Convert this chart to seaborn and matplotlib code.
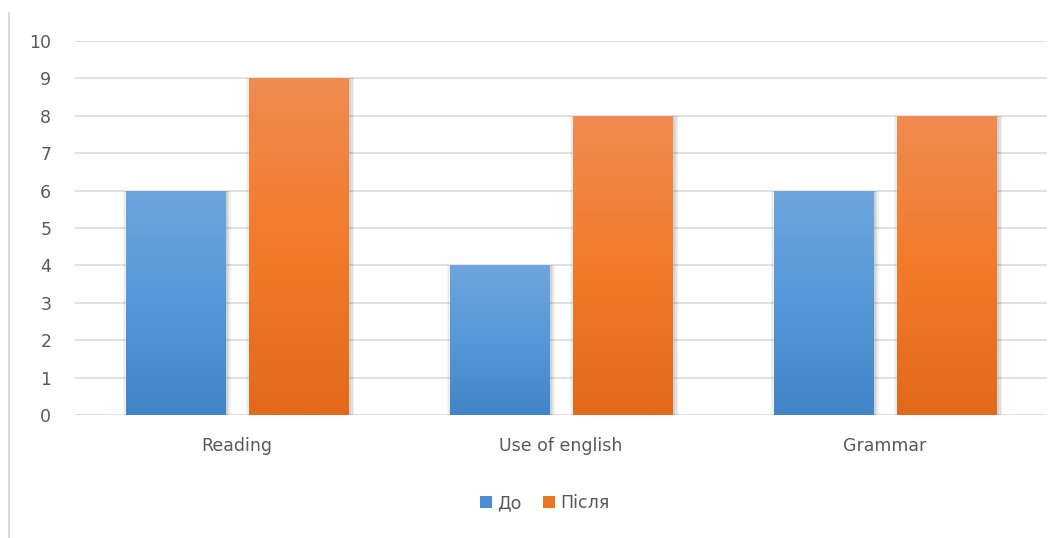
import numpy as np
import pandas as pd
import matplotlib
matplotlib.use("Agg")
import matplotlib.pyplot as plt
import matplotlib.patheffects as pe
from matplotlib.colors import LinearSegmentedColormap
from matplotlib.lines import Line2D
from matplotlib.patches import Patch
import seaborn as sns

categories = ["Reading", "Use of english", "Grammar"]
series = ["До", "Після"]
before = [6, 4, 6]
after = [9, 8, 8]

df = pd.DataFrame({
    "category": categories * 2,
    "series": [series[0]] * 3 + [series[1]] * 3,
    "value": before + after,
})

text_col = "#595959"
grid_col = "#dedede"
base_cols = {"До": "#5b9bd5", "Після": "#ed7d31"}
grads = {
    "До": ["#4185c6", "#5598d8", "#6ea5dc"],
    "Після": ["#e2681a", "#f27b2a", "#f08b50"],
}

sns.set_theme(style="white")
plt.rcParams["font.family"] = ["DejaVu Sans"]

fig = plt.figure(figsize=(10.62, 5.38), dpi=100)
ax = fig.add_axes([0.0706, 0.2286, 0.9152, 0.6952])

sns.barplot(data=df, x="category", y="value", hue="series", palette=base_cols,
            width=0.76, gap=0.19, ax=ax, legend=False, zorder=3)

# soft shadow (a few stacked faint shadows) + vertical gradient fill
shadow = [pe.SimplePatchShadow(offset=(d, 0), shadow_rgbFace="#000000", alpha=0.06) for d in (1, 2, 3, 4)]
shadow += [pe.SimplePatchShadow(offset=(-d, 0), shadow_rgbFace="#000000", alpha=0.04) for d in (1, 2)]
for bar in ax.patches:
    hue_name = "До" if bar.get_facecolor()[2] > 0.6 else "Після"
    bar.set_path_effects(shadow + [pe.Normal()])
    x0, y0 = bar.get_x(), bar.get_y()
    w, h = bar.get_width(), bar.get_height()
    cmap = LinearSegmentedColormap.from_list("g", grads[hue_name])
    grad = np.linspace(1, 0, 256).reshape(-1, 1)
    im = ax.imshow(grad, cmap=cmap, extent=[x0, x0 + w, y0, y0 + h], aspect="auto", zorder=4)
    im.set_clip_path(bar)

ax.set_xlim(-0.5, 2.5)
ax.set_ylim(0, 10)
ax.set_yticks(range(0, 11))
ax.yaxis.grid(True, color=grid_col, linewidth=1.3, zorder=0)
ax.set_axisbelow(True)
for s in ax.spines.values():
    s.set_visible(False)
ax.set_xlabel("")
ax.set_ylabel("")
ax.tick_params(axis="y", length=0, pad=17, labelsize=12.5, labelcolor=text_col)
ax.tick_params(axis="x", length=0, pad=16, labelsize=12.5, labelcolor=text_col)

handles = [Patch(facecolor="#4a8fd4", edgecolor="none", label="До"),
           Patch(facecolor="#ee7722", edgecolor="none", label="Після")]
fig.legend(handles=handles, loc="center", bbox_to_anchor=(0.513, 0.065), ncol=2, frameon=False,
           handlelength=0.7, handleheight=0.7, handletextpad=0.3, columnspacing=1.2,
           fontsize=12.5, labelcolor=text_col)

# chart area border on the left
fig.add_artist(Line2D([9 / 1062, 9 / 1062], [0, 1 - 13 / 538], color="#d9d9d9", linewidth=1.5))

fig.savefig("out.png", dpi=100, facecolor="white")
